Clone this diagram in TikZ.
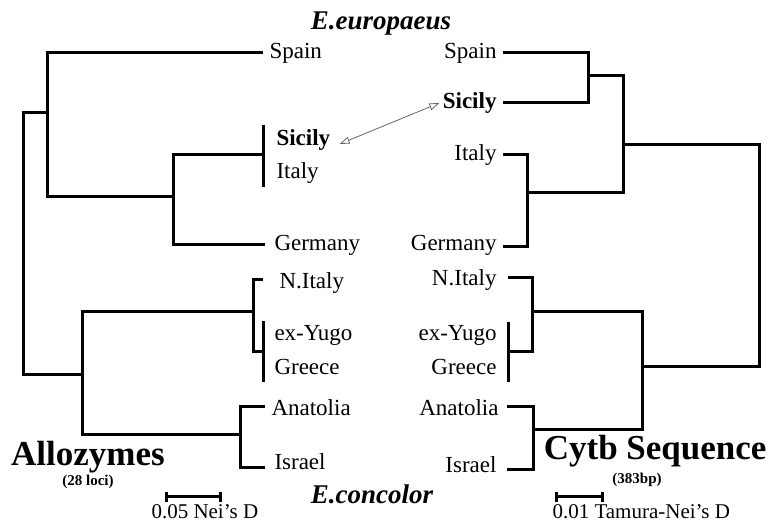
\documentclass[tikz,border=0pt]{standalone}
\usepackage{fontspec}
\setmainfont{Liberation Serif}
\usetikzlibrary{arrows.meta}

\begin{document}
\begin{tikzpicture}[x=1pt,y=-1pt,line width=3pt,
    taxon/.style={font=\fontsize{23}{25}\selectfont,inner sep=1pt},
    heading/.style={font=\fontsize{27}{30}\selectfont\bfseries\itshape},
    method/.style={font=\fontsize{35}{38}\selectfont\bfseries,inner sep=0pt},
    note/.style={font=\fontsize{15}{17}\selectfont\bfseries,inner sep=0pt},
    scalelab/.style={font=\fontsize{21}{23}\selectfont,inner sep=0pt},
    scalebar/.style={line width=3pt,{Bar[width=10pt,line width=2.6pt]}-{Bar[width=10pt,line width=2.6pt]}}]
  \useasboundingbox (0,0) rectangle (769,526);

  % allozyme tree
  \coordinate (lroot) at (23,250);
  \coordinate (la) at (47,113);
  \coordinate (lb) at (173,197);
  \coordinate (lc) at (82,375);
  \coordinate (ld) at (253,312);
  \coordinate (le) at (240,435);
  \coordinate (lspain) at (263,53);
  \coordinate (lsi) at (263,155);
  \coordinate (lsi1) at (263,125);
  \coordinate (lsi2) at (263,187);
  \coordinate (lger) at (265,245);
  \coordinate (lnit) at (263,280);
  \coordinate (lyg) at (263,352);
  \coordinate (lyg1) at (263,321);
  \coordinate (lyg2) at (263,382);
  \coordinate (lana) at (265,407);
  \coordinate (lisr) at (265,468);

  \draw (la) -| (lroot) |- (lc);
  \draw (lspain) -| (la) |- (lb);
  \draw (lsi) -| (lb) |- (lger);
  \draw (lsi1) -- (lsi2);
  \draw (ld) -| (lc) |- (le);
  \draw (lnit) -| (ld) |- (lyg);
  \draw (lyg1) -- (lyg2);
  \draw (lana) -| (le) |- (lisr);

  \node[taxon,anchor=west] (lSpain) at (267,53) {Spain};
  \node[taxon,anchor=west] (lSicily) at (274,140) {\bfseries Sicily};
  \node[taxon,anchor=west] (lItaly) at (274,173) {Italy};
  \node[taxon,anchor=west] (lGermany) at (272,245) {Germany};
  \node[taxon,anchor=west] (lNItaly) at (277,283) {N.Italy};
  \node[taxon,anchor=west] (lYugo) at (272,335) {ex-Yugo};
  \node[taxon,anchor=west] (lGreece) at (272,367) {Greece};
  \node[taxon,anchor=west] (lAnatolia) at (269,408) {Anatolia};
  \node[taxon,anchor=west] (lIsrael) at (272,462) {Israel};

  % cytochrome b tree
  \coordinate (rroot) at (759,250);
  \coordinate (rf) at (623,145);
  \coordinate (rg) at (642,367);
  \coordinate (rh) at (588,76);
  \coordinate (ri) at (527,193);
  \coordinate (rj) at (532,312);
  \coordinate (rk) at (533,430);
  \coordinate (rspain) at (503,53);
  \coordinate (rsic) at (503,103);
  \coordinate (rit) at (503,155);
  \coordinate (rger) at (503,247);
  \coordinate (rnit) at (508,278);
  \coordinate (ryg) at (508,352);
  \coordinate (ryg1) at (508,322);
  \coordinate (ryg2) at (508,382);
  \coordinate (rana) at (507,407);
  \coordinate (risr) at (507,470);

  \draw (rf) -| (rroot) |- (rg);
  \draw (rh) -| (rf) |- (ri);
  \draw (rspain) -| (rh) |- (rsic);
  \draw (rit) -| (ri) |- (rger);
  \draw (rj) -| (rg) |- (rk);
  \draw (rnit) -| (rj) |- (ryg);
  \draw (ryg1) -- (ryg2);
  \draw (rana) -| (rk) |- (risr);

  \node[taxon,anchor=east] (rSpain) at (499,53) {Spain};
  \node[taxon,anchor=east] (rSicily) at (499,103) {\bfseries Sicily};
  \node[taxon,anchor=east] (rItaly) at (499,155) {Italy};
  \node[taxon,anchor=east] (rGermany) at (499,245) {Germany};
  \node[taxon,anchor=east] (rNItaly) at (499,280) {N.Italy};
  \node[taxon,anchor=east] (rYugo) at (499,335) {ex-Yugo};
  \node[taxon,anchor=east] (rGreece) at (499,367) {Greece};
  \node[taxon,anchor=east] (rAnatolia) at (501,408) {Anatolia};
  \node[taxon,anchor=east] (rIsrael) at (499,465) {Israel};

  % Sicily link
  \draw[gray!80!black,line width=0.8pt,{Triangle[open,length=10pt,width=7pt]}-{Triangle[open,length=10pt,width=7pt]}]
    ([shift={(7,4)}]lSicily.east) -- ([shift={(-1,0)}]rSicily.west);

  % headings and scales
  \node[heading] (europaeus) at (381,24) {E.europaeus};
  \node[heading] (concolor) at (372,494) {E.concolor};
  \node[method] (allo) at (88,457) {Allozymes};
  \node[note] (loci) at (88,482) {(28 loci)};
  \node[method,anchor=east] (cytb) at (768,451) {Cytb Sequence};
  \node[note] (bp) at (637,480) {(383bp)};

  \coordinate (ls1) at (165,497);
  \coordinate (ls2) at (222,497);
  \draw[scalebar] (ls1) -- (ls2);
  \node[scalelab,anchor=base west] (lscale) at (150,519) {0.05 Nei's D};
  \coordinate (rs1) at (555,497);
  \coordinate (rs2) at (604,497);
  \draw[scalebar] (rs1) -- (rs2);
  \node[scalelab,anchor=base west] (rscale) at (551,519) {0.01 Tamura-Nei's D};
\end{tikzpicture}
\end{document}
